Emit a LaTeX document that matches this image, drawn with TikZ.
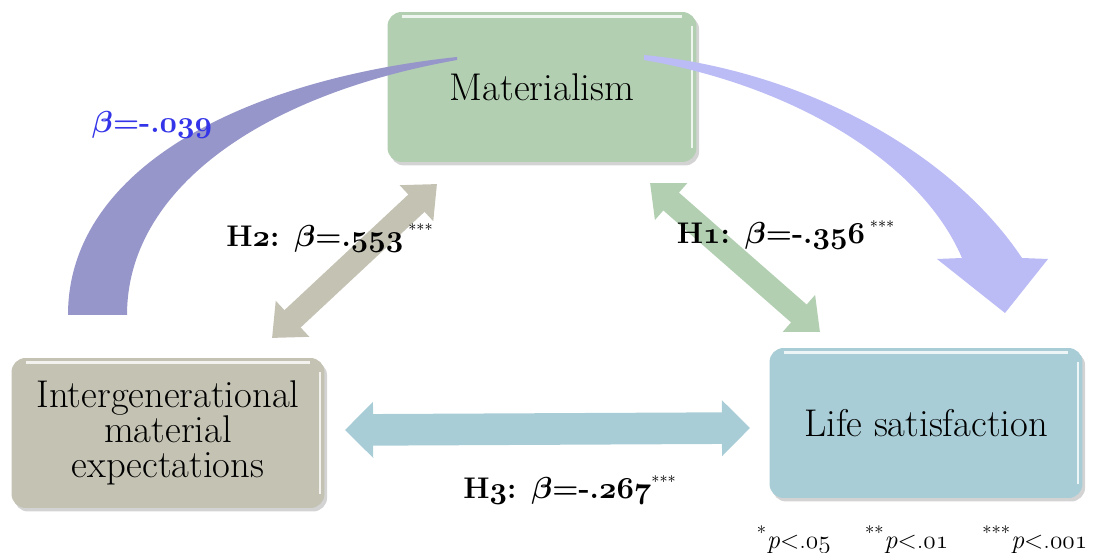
\documentclass[tikz,border=0pt]{standalone}
\usetikzlibrary{arrows.meta,shadows}

\definecolor{matgreen}{RGB}{178,207,178}
\definecolor{expgray}{RGB}{196,194,179}
\definecolor{lifeblue}{RGB}{168,205,214}
\definecolor{curvedark}{RGB}{150,150,202}
\definecolor{curvelight}{RGB}{187,187,245}
\definecolor{betablue}{RGB}{52,52,232}

\newcommand{\os}[1]{{\boldmath$\mathnormal{#1}$}}
\newcommand{\osl}[1]{$\mathnormal{#1}$}
\newcommand{\bb}{{\boldmath$\beta$}}
\newcommand{\sig}{\textsuperscript{\mdseries\small***}}

\tikzset{
  varbox/.style={rounded corners=8pt, minimum width=6.26cm, minimum height=3cm,
    align=center, font=\fontsize{22}{20}\selectfont,
    drop shadow={opacity=0.35, shadow xshift=1.5pt, shadow yshift=-2pt},
    path picture={
      \draw[white, line width=1.5pt, opacity=0.8]
        ([xshift=8pt,yshift=-2.5pt]path picture bounding box.north west)
        -- ([xshift=-8pt,yshift=-2.5pt]path picture bounding box.north east);
      \draw[white, line width=1.5pt, opacity=0.8]
        ([xshift=-2.5pt,yshift=-8pt]path picture bounding box.north east)
        -- ([xshift=-2.5pt,yshift=8pt]path picture bounding box.south east);
    }},
  hyparrow/.style={line width=13.5pt,
    {Triangle[length=16pt,width=27pt]}-{Triangle[length=16pt,width=27pt]}},
  hyplabel/.style={font=\fontsize{17}{20}\selectfont\bfseries}
}

\begin{document}
\begin{tikzpicture}[x=0.02cm,y=-0.02cm]
\useasboundingbox (0,0) rectangle (1105,553);

% the three variables
\node[varbox, fill=matgreen, minimum width=6.18cm] (mat) at (542,87) {Materialism};
\node[varbox, fill=expgray] (exp) at (168,433) {Intergenerational\\material\\expectations};
\node[varbox, fill=lifeblue] (life) at (926,423) {Life satisfaction};

% curved path through materialism
\fill[curvedark] (68,315) .. controls (68,170) and (240,80) .. (457,57)
  -- (457,60) .. controls (260,95) and (127,190) .. (127,315) -- cycle;
\fill[curvelight] (644,55) .. controls (800,70) and (950,150) .. (1022,258)
  -- (1048,259) -- (1005,313) -- (937,259) -- (962,258)
  .. controls (920,160) and (790,85) .. (644,60) -- cycle;

% hypotheses
\coordinate (h2a) at (272,338);
\coordinate (h2b) at (437,184);
\draw[hyparrow, expgray] (h2a) -- (h2b);

\coordinate (h1a) at (650,183);
\coordinate (h1b) at (820,332);
\draw[hyparrow, matgreen] (h1a) -- (h1b);

\coordinate (h3a) at (345,430);
\coordinate (h3b) at (750,428);
\draw[hyparrow, lifeblue, line width=18pt,
  {Triangle[length=16pt,width=31pt]}-{Triangle[length=16pt,width=31pt]}] (h3a) -- (h3b);

% labels
\node[hyplabel, text=betablue] (direct) at (152,125) {\bb=-.\os{039}};
\node[hyplabel] (h2lab) at (330,238) {H\os{2}: \bb=.\os{553}\,\sig};
\node[hyplabel] (h1lab) at (786,235) {H\os{1}: \bb=-.\os{356}\,\sig};
\node[hyplabel] (h3lab) at (570,490) {H\os{3}: \bb=-.\os{267}\sig};

\node[font=\fontsize{15}{18}\selectfont] (note) at (922,540)
  {\textsuperscript{*}\textit{p}$<$.\osl{05}\quad\ \textsuperscript{**}\textit{p}$<$.\osl{01}\quad\ \textsuperscript{***}\textit{p}$<$.\osl{001}};
\end{tikzpicture}
\end{document}
